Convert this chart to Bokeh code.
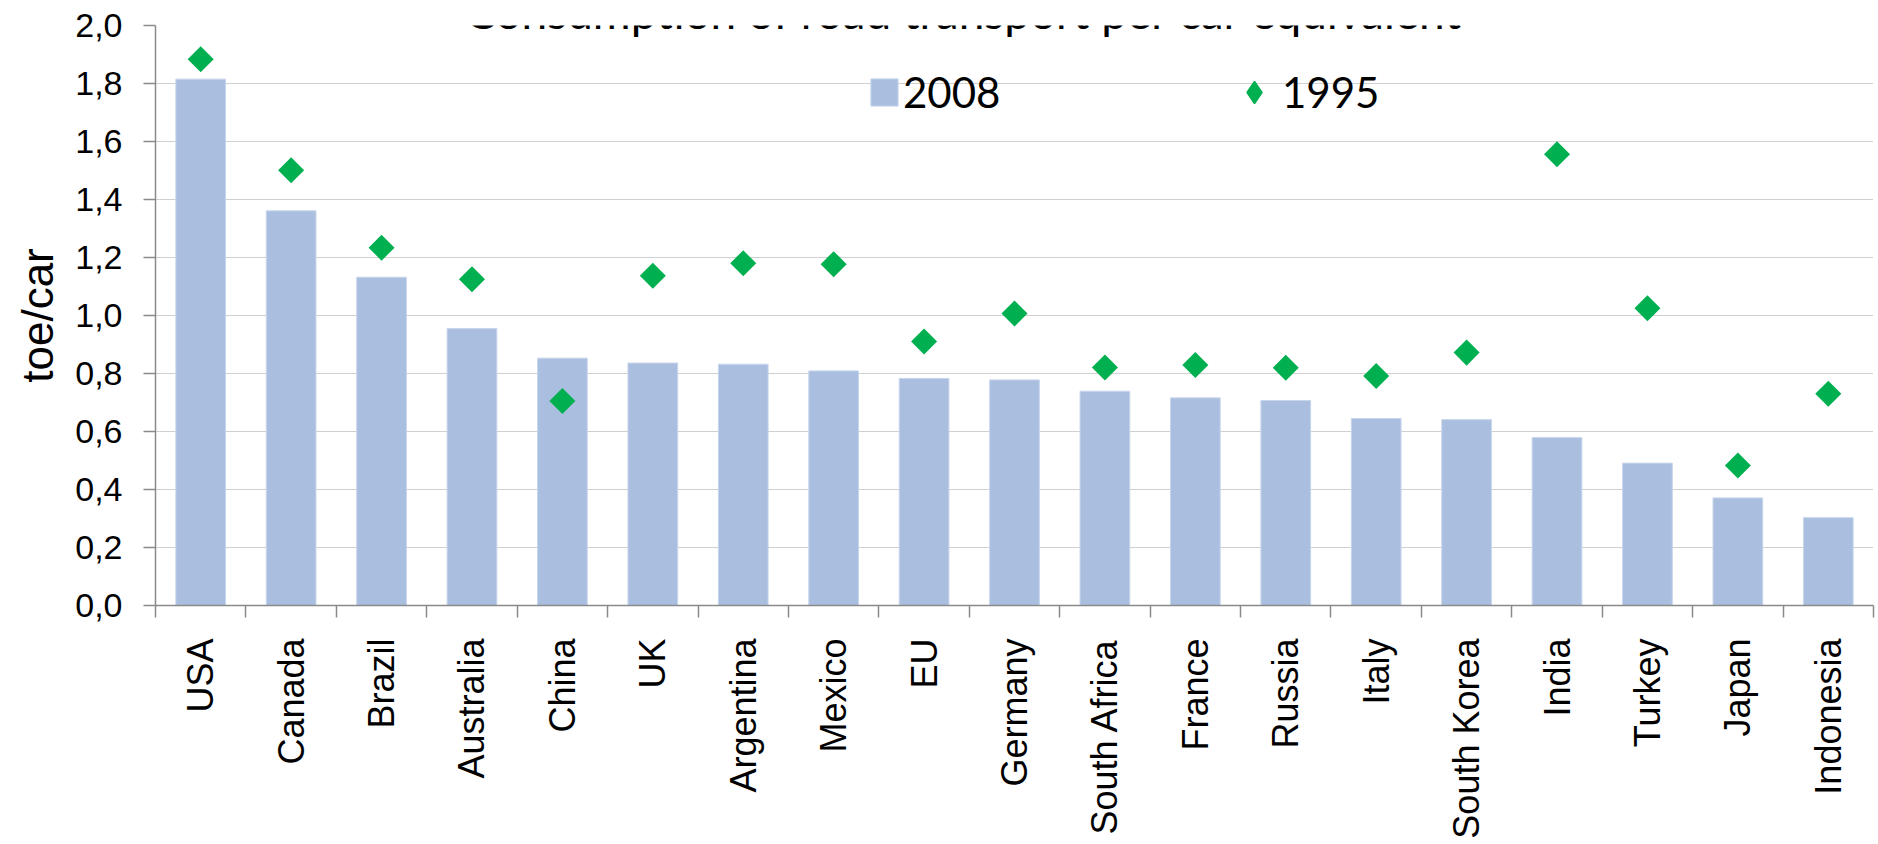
import math
import numpy as np
from bokeh.plotting import figure
from bokeh.models import (FixedTicker, CustomJSTickFormatter, Legend, LegendItem,
                          Label, ColumnDataSource, Range1d)
from bokeh.embed import file_html
from bokeh.resources import INLINE

# ---- data ----
countries = ["USA", "Canada", "Brazil", "Australia", "China", "UK", "Argentina",
             "Mexico", "EU", "Germany", "South Africa", "France", "Russia", "Italy",
             "South Korea", "India", "Turkey", "Japan", "Indonesia"]
v2008 = [1.815, 1.361, 1.132, 0.955, 0.853, 0.836, 0.832, 0.809, 0.783, 0.778,
         0.739, 0.716, 0.707, 0.645, 0.641, 0.579, 0.491, 0.371, 0.303]
v1995 = [1.884, 1.501, 1.234, 1.125, 0.705, 1.137, 1.180, 1.177, 0.910, 1.007,
         0.821, 0.829, 0.820, 0.791, 0.872, 1.556, 1.025, 0.483, 0.730]
y_ticks = [0.0, 0.2, 0.4, 0.6, 0.8, 1.0, 1.2, 1.4, 1.6, 1.8, 2.0]
series_names = ["2008", "1995"]
title_text = "Consumption of road transport per car equivalent"
y_label = "toe/car"

BAR = "#AABFDF"
GREEN = "#00B050"
AXIS = "#8a8a8a"

n = len(countries)
xc = [i + 0.5 for i in range(n)]
src = ColumnDataSource(dict(x=xc, country=countries, v2008=v2008, v1995=v1995))

p = figure(width=1878, height=844, x_range=Range1d(0, n),
           y_range=Range1d(y_ticks[0], y_ticks[-1]),
           output_backend="svg", toolbar_location=None,
           min_border_left=155, min_border_right=5, min_border_top=25, min_border_bottom=239)
p.outline_line_color = None
p.background_fill_color = "white"
p.border_fill_color = "white"

bars = p.vbar(x="x", top="v2008", width=0.55, source=src, fill_color=BAR,
              line_color="#c8d6ec", line_width=1)
p.scatter(x="x", y="v1995", source=src, marker="square", angle=math.pi / 4,
          size=18.4, fill_color=GREEN, line_color=None)

# legend-only renderer for the diamond key (no visible points)
leg_src = ColumnDataSource(dict(x=np.array([np.nan]), y=np.array([np.nan])))
r_dia = p.scatter(x="x", y="y", source=leg_src, marker="diamond", size=10,
                  fill_color=GREEN, line_color=GREEN, line_width=1.5)

legend_a = Legend(items=[LegendItem(label=series_names[0], renderers=[bars])],
                  orientation="horizontal", location=(712, 488),
                  glyph_width=34, glyph_height=34, label_standoff=2,
                  padding=0, margin=0, border_line_color=None, background_fill_alpha=0,
                  label_text_font="Lato", label_text_font_size="42px",
                  label_text_color="black")
legend_b = Legend(items=[LegendItem(label=series_names[1], renderers=[r_dia])],
                  orientation="horizontal", location=(1071, 485),
                  glyph_width=56, glyph_height=56, label_standoff=0,
                  padding=0, margin=0, border_line_color=None, background_fill_alpha=0,
                  label_text_font="Lato", label_text_font_size="42px",
                  label_text_color="black")
p.add_layout(legend_a)
p.add_layout(legend_b)

title = Label(x=809, y=594, x_units="screen", y_units="screen", text=title_text,
              text_align="center", text_baseline="alphabetic", text_font="Lato",
              text_font_size="46px", text_color="black")
p.add_layout(title)

# x axis
xa = p.xaxis[0]
xa.ticker = FixedTicker(ticks=xc, minor_ticks=list(range(n + 1)))
xa.formatter = CustomJSTickFormatter(args=dict(names=countries),
                                     code="return names[Math.round(tick - 0.5)];")
xa.major_label_orientation = math.pi / 2
xa.major_tick_line_color = None
xa.major_tick_out = 12
xa.major_tick_in = 0
xa.minor_tick_out = 12
xa.minor_tick_in = 0
xa.minor_tick_line_color = AXIS
xa.minor_tick_line_width = 1.5
xa.axis_line_color = AXIS
xa.axis_line_width = 1.5
xa.major_label_standoff = 21
xa.major_label_text_font = "Liberation Sans"
xa.major_label_text_font_size = "36px"
xa.major_label_text_color = "black"

# y axis
ya = p.yaxis[0]
ya.ticker = FixedTicker(ticks=y_ticks)
ya.formatter = CustomJSTickFormatter(code="return tick.toFixed(1).replace('.', ',');")
ya.major_tick_out = 12
ya.major_tick_in = 0
ya.major_tick_line_color = AXIS
ya.major_tick_line_width = 1.5
ya.minor_tick_line_color = None
ya.axis_line_color = AXIS
ya.axis_line_width = 1.5
ya.major_label_standoff = 21
ya.major_label_text_font = "Liberation Sans"
ya.major_label_text_font_size = "34px"
ya.major_label_text_color = "black"
ya.axis_label = y_label
ya.axis_label_text_font = "Liberation Sans"
ya.axis_label_text_font_size = "44px"
ya.axis_label_text_font_style = "normal"
ya.axis_label_text_color = "black"
ya.axis_label_standoff = 10

p.xgrid.visible = False
p.ygrid.grid_line_color = "#a0a0a0"
p.ygrid.grid_line_dash = "1 1"
p.ygrid.grid_line_width = 1

open("out.html", "w").write(file_html(p, INLINE))
